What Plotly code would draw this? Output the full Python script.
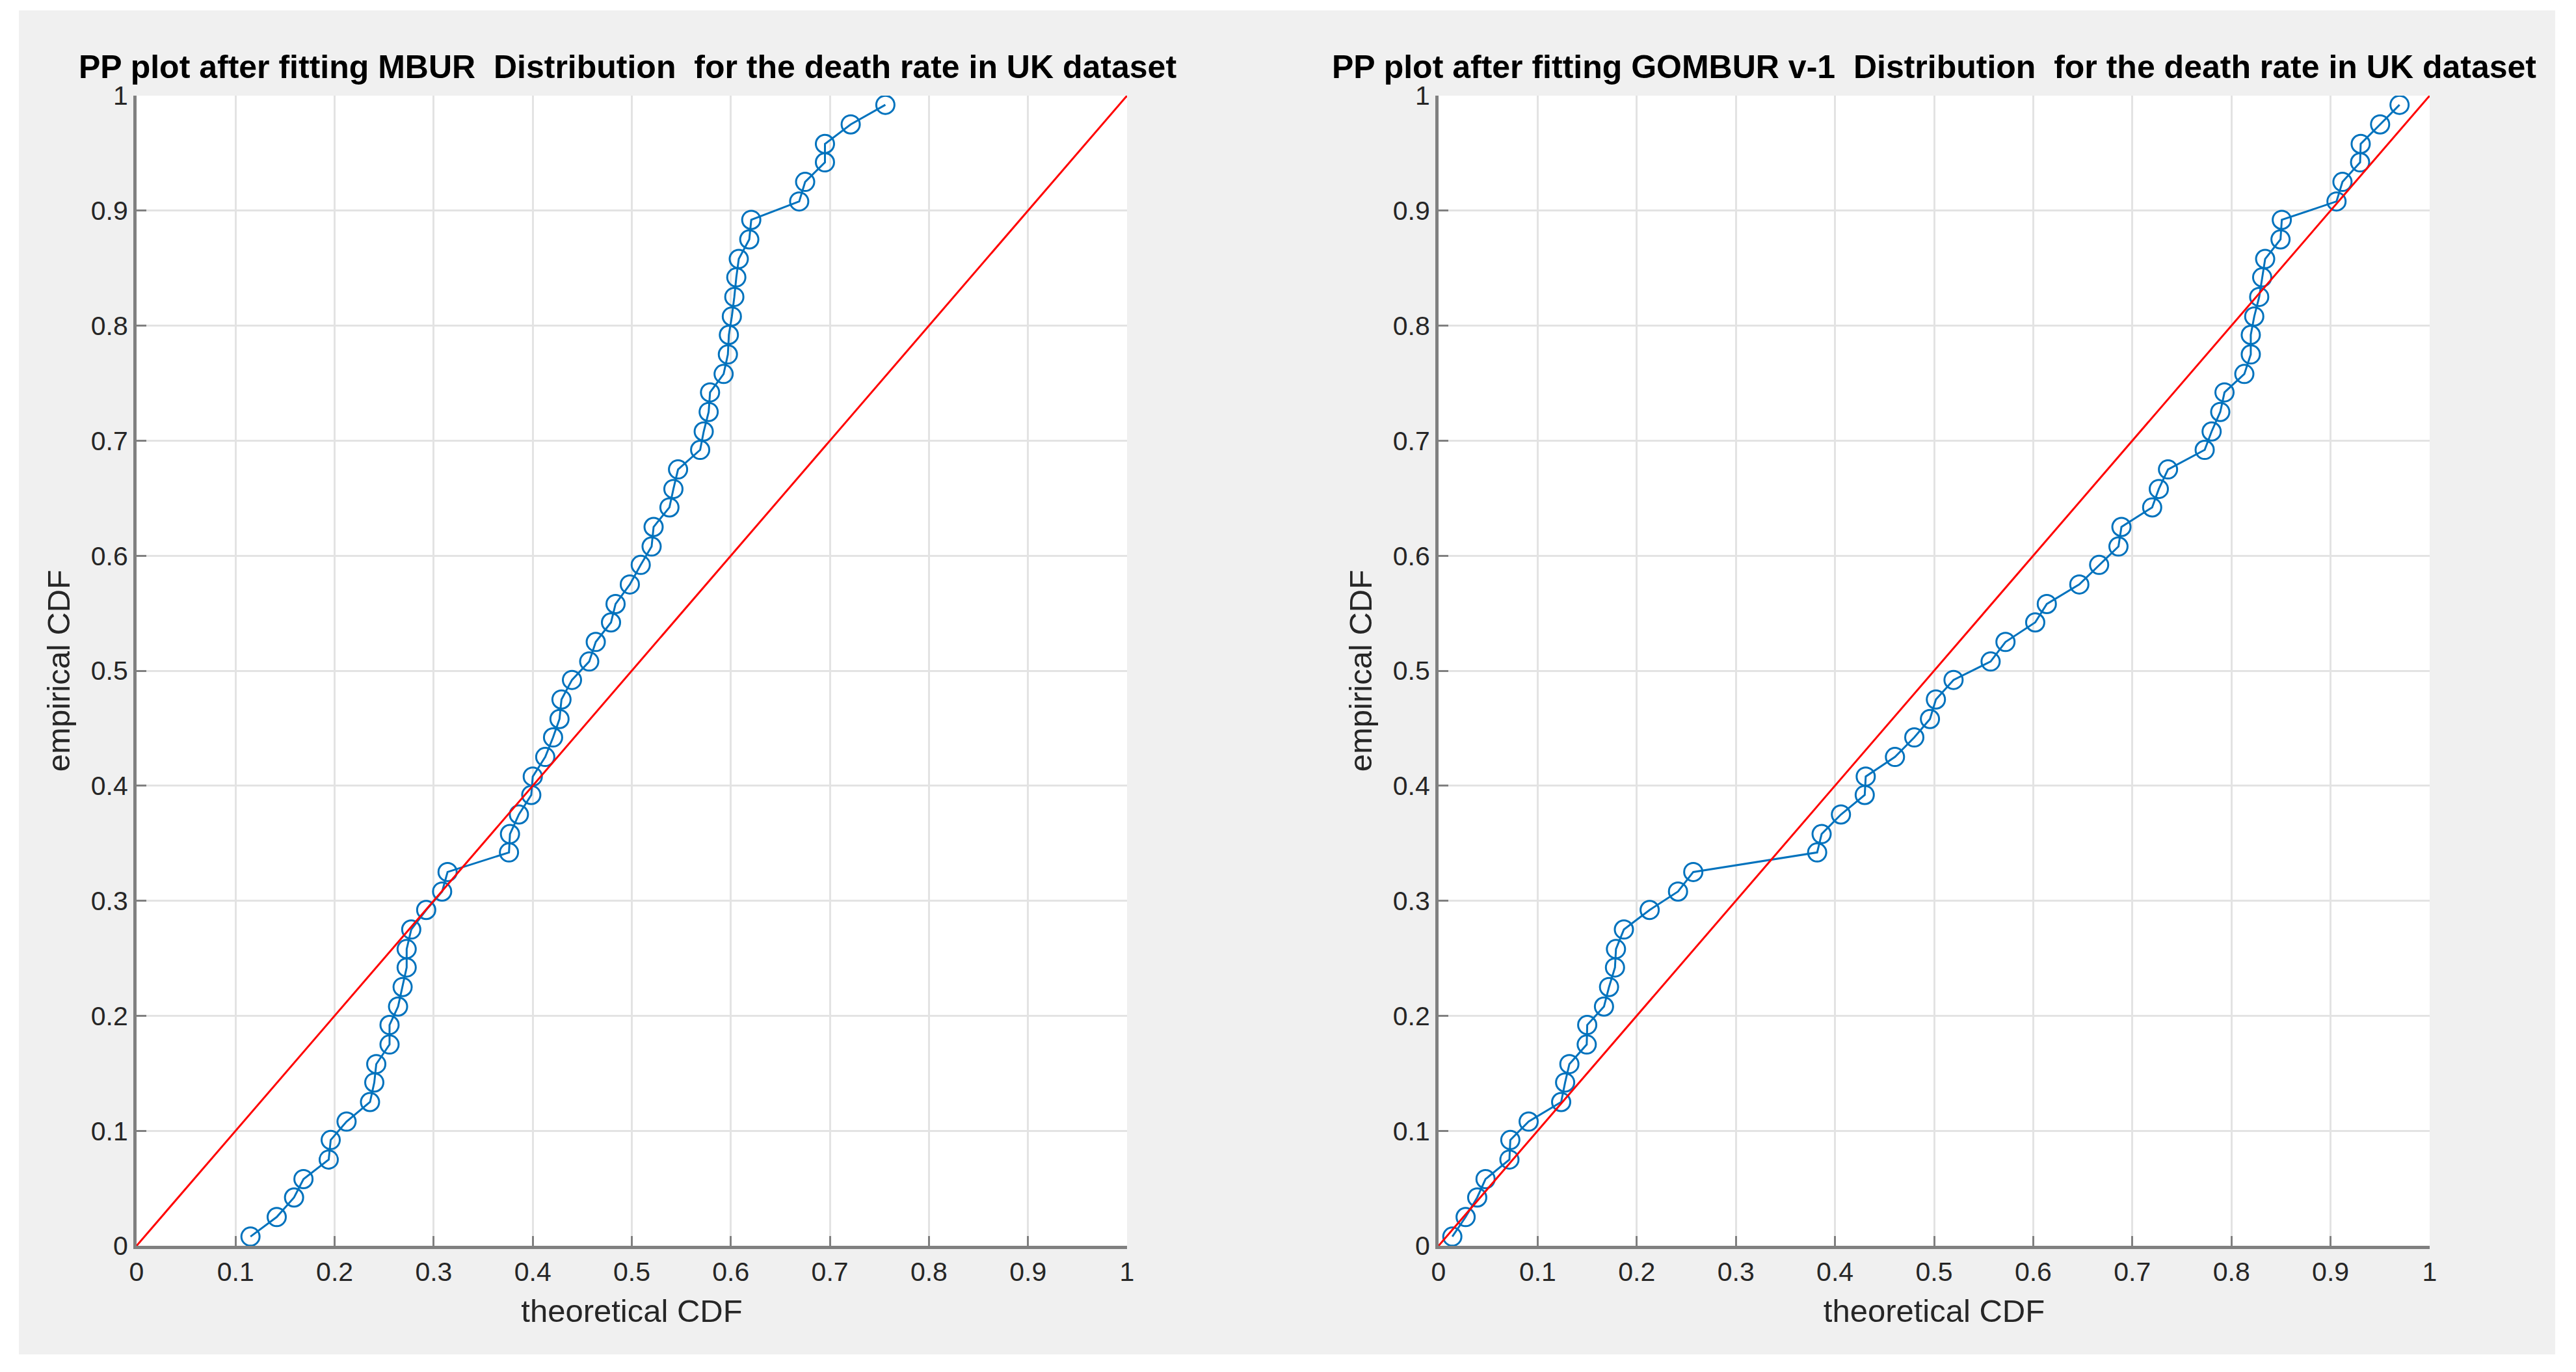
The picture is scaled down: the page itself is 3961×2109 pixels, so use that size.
import plotly.graph_objects as go

# ---------------- data ----------------
emp_cdf = [0.008, 0.025, 0.042, 0.058, 0.075, 0.092, 0.108, 0.125, 0.142, 0.158,
           0.175, 0.192, 0.208, 0.225, 0.242, 0.258, 0.275, 0.292, 0.308, 0.325,
           0.342, 0.358, 0.375, 0.392, 0.408, 0.425, 0.442, 0.458, 0.475, 0.492,
           0.508, 0.525, 0.542, 0.558, 0.575, 0.592, 0.608, 0.625, 0.642, 0.658,
           0.675, 0.692, 0.708, 0.725, 0.742, 0.758, 0.775, 0.792, 0.808, 0.825,
           0.842, 0.858, 0.875, 0.892, 0.908, 0.925, 0.942, 0.958, 0.975, 0.992]

mbur_theo = [0.115, 0.1415, 0.159, 0.1685, 0.194, 0.196, 0.212, 0.2357, 0.240, 0.242,
             0.2554, 0.2554, 0.264, 0.2686, 0.2727, 0.2727, 0.2773, 0.2924, 0.3085, 0.314,
             0.376, 0.377, 0.386, 0.3985, 0.400, 0.4126, 0.4205, 0.427, 0.429, 0.4396,
             0.457, 0.4636, 0.479, 0.4836, 0.498, 0.509, 0.520, 0.522, 0.538, 0.542,
             0.5467, 0.569, 0.5726, 0.5776, 0.579, 0.5927, 0.597, 0.598, 0.601, 0.6035,
             0.6055, 0.608, 0.6186, 0.6206, 0.669, 0.675, 0.695, 0.695, 0.721, 0.756]

gombur_theo = [0.0139, 0.0273, 0.039, 0.0474, 0.0715, 0.0724, 0.0909, 0.1237, 0.1277, 0.132,
               0.1495, 0.150, 0.1669, 0.172, 0.178, 0.179, 0.187, 0.213, 0.2416, 0.257,
               0.382, 0.3865, 0.406, 0.430, 0.431, 0.4605, 0.480, 0.4958, 0.5018, 0.5196,
               0.557, 0.572, 0.602, 0.6137, 0.6465, 0.6665, 0.686, 0.689, 0.720, 0.7267,
               0.736, 0.773, 0.780, 0.7887, 0.793, 0.813, 0.8195, 0.8195, 0.823, 0.828,
               0.831, 0.834, 0.8495, 0.8508, 0.906, 0.912, 0.9298, 0.9304, 0.950, 0.9696]

ref_x = [0, 1]
ref_y = [0, 1]

tick_vals = [0, 0.1, 0.2, 0.3, 0.4, 0.5, 0.6, 0.7, 0.8, 0.9, 1]
tick_text = ["0", "0.1", "0.2", "0.3", "0.4", "0.5", "0.6", "0.7", "0.8", "0.9", "1"]

title_left = "PP plot after fitting MBUR  Distribution  for the death rate in UK dataset"
title_right = "PP plot after fitting GOMBUR v-1  Distribution  for the death rate in UK dataset"
xlabel = "theoretical CDF"
ylabel = "empirical CDF"

# ---------------- figure ----------------
# the page body has an 8px margin, so the figure sits at (8, 8) in the window
OFF = 8
W, H = 3961 - 2 * OFF, 2109 - 2 * OFF
BLUE = "#0072BD"
FONT = "Liberation Sans, Arial, sans-serif"

fig = go.Figure()

for theo, xa, ya in [(mbur_theo, "x", "y"), (gombur_theo, "x2", "y2")]:
    fig.add_trace(go.Scatter(
        x=theo, y=emp_cdf, xaxis=xa, yaxis=ya, mode="lines+markers",
        line=dict(color=BLUE, width=3),
        marker=dict(symbol="circle-open", size=28, color=BLUE, line=dict(width=3, color=BLUE)),
        showlegend=False, hoverinfo="x+y"))
    fig.add_trace(go.Scatter(
        x=ref_x, y=ref_y, xaxis=xa, yaxis=ya, mode="lines",
        line=dict(color="#FF0000", width=3), showlegend=False))

# page-pixel -> paper coordinate helpers
px = lambda p: (p - OFF) / W
py = lambda p: 1 - (p - OFF) / H

ydom = [py(1915), py(147)]
xdom1 = [px(210), px(1733)]
xdom2 = [px(2212), px(3736)]

axis_common = dict(
    range=[0, 1], tickvals=tick_vals, ticktext=tick_text,
    showgrid=True, gridcolor="#e3e3e3", gridwidth=3,
    showline=True, linecolor="#808080", linewidth=5,
    ticks="inside", ticklen=15, tickwidth=3, tickcolor="#808080",
    tickfont=dict(family=FONT, size=41, color="#262626"),
    zeroline=False, automargin=False, fixedrange=True,
)

lab_font = dict(family=FONT, size=49, color="#262626")
fig.update_layout(
    width=W, height=H,
    margin=dict(l=0, r=0, t=0, b=0),
    paper_bgcolor="#f0f0f0", plot_bgcolor="white",
    xaxis=dict(domain=xdom1, anchor="y", title=dict(text=xlabel, font=lab_font, standoff=22), **axis_common),
    yaxis=dict(domain=ydom, anchor="x", title=dict(text=ylabel, font=lab_font, standoff=18), **axis_common),
    xaxis2=dict(domain=xdom2, anchor="y2", title=dict(text=xlabel, font=lab_font, standoff=22), **axis_common),
    yaxis2=dict(domain=ydom, anchor="x2", title=dict(text=ylabel, font=lab_font, standoff=18), **axis_common),
)

# titles
for txt, xc in [(title_left, 965), (title_right, 2974)]:
    fig.add_annotation(text="<b>" + txt + "</b>", xref="paper", yref="paper",
                       x=px(xc), y=py(103), xanchor="center", yanchor="middle",
                       showarrow=False, font=dict(family=FONT, size=50, color="black"))

# white frame around the gray figure area (page coords)
for x0, y0, x1, y1 in [(OFF, OFF, 29, 2109 - OFF), (3929, OFF, 3961 - OFF, 2109 - OFF),
                       (OFF, OFF, 3961 - OFF, 16), (OFF, 2082, 3961 - OFF, 2109 - OFF)]:
    fig.add_shape(type="rect", xref="paper", yref="paper",
                  x0=px(x0), x1=px(x1), y0=py(y1), y1=py(y0),
                  fillcolor="white", line=dict(width=0), layer="above")

fig.write_html("out.html")
